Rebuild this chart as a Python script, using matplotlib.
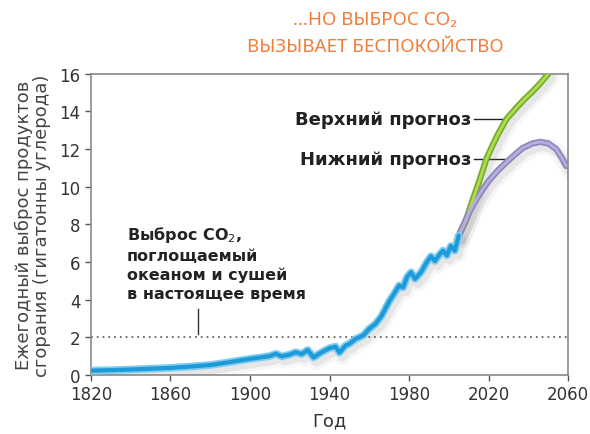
import matplotlib.pyplot as plt
import matplotlib.patheffects as pe

# Исторические выбросы (ГтC)
hist_years = [1820, 1840, 1860, 1870, 1880, 1890, 1900, 1905, 1910, 1913, 1916, 1920, 1923,
              1926, 1929, 1932, 1936, 1940, 1943, 1945, 1948, 1950, 1953, 1957, 1960,
              1963, 1966, 1970, 1973, 1975, 1977, 1979, 1981, 1983, 1986, 1989, 1991,
              1993, 1995, 1997, 1999, 2001, 2003, 2005]
hist_vals = [0.22, 0.28, 0.37, 0.44, 0.52, 0.68, 0.85, 0.92, 1.0, 1.12, 0.98, 1.08, 1.2,
             1.1, 1.32, 0.92, 1.2, 1.42, 1.5, 1.18, 1.55, 1.65, 1.9, 2.1, 2.45,
             2.7, 3.1, 3.9, 4.4, 4.75, 4.65, 5.2, 5.45, 5.1, 5.45, 6.0, 6.3,
             6.05, 6.35, 6.6, 6.35, 6.85, 6.6, 7.4]

# Прогнозы
upper_years = [2005, 2007, 2009, 2012, 2015, 2019, 2022, 2025, 2029, 2034, 2038, 2042, 2046, 2050]
upper_vals = [7.4, 7.85, 8.3, 9.3, 10.2, 11.5, 12.2, 12.85, 13.6, 14.2, 14.65, 15.05, 15.5, 16.0]
lower_years = [2005, 2008, 2011, 2014, 2017, 2020, 2025, 2031, 2037, 2042, 2046, 2050, 2054, 2057, 2059]
lower_vals = [7.4, 8.1, 8.8, 9.36, 9.85, 10.3, 10.9, 11.5, 12.05, 12.3, 12.38, 12.3, 12.0, 11.5, 11.1]

absorbed = 2.0
x_ticks = [1820, 1860, 1900, 1940, 1980, 2020, 2060]
y_ticks = [0, 2, 4, 6, 8, 10, 12, 14, 16]

orange = '#f27d3a'
dark = '#333333'

fig = plt.figure(figsize=(5.9, 4.35), dpi=100)
ax = fig.add_axes([0.154, 0.136, 0.809, 0.692])
ax.set_xlim(1820, 2060)
ax.set_ylim(0, 16)

shadow = [pe.SimpleLineShadow(offset=(2, -3), shadow_color='#888888', alpha=0.07, linewidth=12),
          pe.SimpleLineShadow(offset=(2, -3), shadow_color='#777777', alpha=0.12, linewidth=7),
          pe.Normal()]

# Линия поглощения
ax.axhline(absorbed, color='#666666', linestyle=(0, (1, 2.2)), linewidth=1.3, zorder=1)
ax.plot([1874, 1874], [2.15, 3.5], color='#333333', linewidth=1, zorder=2)

# Прогнозы
ax.plot(upper_years, upper_vals, color='#72ad2e', linewidth=4.5, solid_capstyle='round',
        path_effects=shadow, zorder=3)
ax.plot(upper_years, upper_vals, color='#b2dc4e', linewidth=2, solid_capstyle='round', zorder=4)
ax.plot(lower_years, lower_vals, color='#8d85bf', linewidth=4.5, solid_capstyle='round',
        path_effects=shadow, zorder=3)
ax.plot(lower_years, lower_vals, color='#b6afda', linewidth=2, solid_capstyle='round', zorder=4)

# Исторические данные
ax.plot(hist_years, hist_vals, color='#7fcdf0', linewidth=5.5, solid_capstyle='round',
        solid_joinstyle='round', path_effects=shadow, zorder=5)
ax.plot(hist_years, hist_vals, color='#1f9ad8', linewidth=3, solid_capstyle='round',
        solid_joinstyle='round', zorder=6)

# Подписи прогнозов
ax.text(2011.5, 13.6, 'Верхний прогноз', ha='right', va='center', fontsize=13,
        fontweight='bold', color='#222222')
ax.plot([2012.5, 2029], [13.6, 13.6], color='#222222', linewidth=1, zorder=2)
ax.text(2011.5, 11.45, 'Нижний прогноз', ha='right', va='center', fontsize=13,
        fontweight='bold', color='#222222')
ax.plot([2012.5, 2031], [11.45, 11.45], color='#222222', linewidth=1, zorder=2)

ax.text(1838, 8.0, 'Выброс CO$_2$,\nпоглощаемый\nокеаном и сушей\nв настоящее время',
        ha='left', va='top', fontsize=11.5, fontweight='bold', color='#222222',
        linespacing=1.3)

ax.set_xticks(x_ticks)
ax.set_yticks(y_ticks)
ax.tick_params(direction='out', length=4, width=1, colors='#555555', labelcolor=dark,
               labelsize=12)
for s in ax.spines.values():
    s.set_color('#8a8a8a')
    s.set_linewidth(1.2)

ax.set_xlabel('Год', fontsize=13, color=dark, labelpad=6)
ax.set_ylabel('Ежегодный выброс продуктов\nсгорания (гигатонны углерода)', fontsize=13,
              color='#444444', labelpad=6, linespacing=1.0)

title_font = ['Noto Sans', 'DejaVu Sans']
fig.text(0.636, 0.953, '…НО ВЫБРОС CO₂', ha='center', va='center', fontsize=13.5,
         color=orange, family=title_font)
fig.text(0.636, 0.893, 'ВЫЗЫВАЕТ БЕСПОКОЙСТВО', ha='center', va='center', fontsize=13.5,
         color=orange, family=title_font)

fig.savefig('out.png', dpi=100)
